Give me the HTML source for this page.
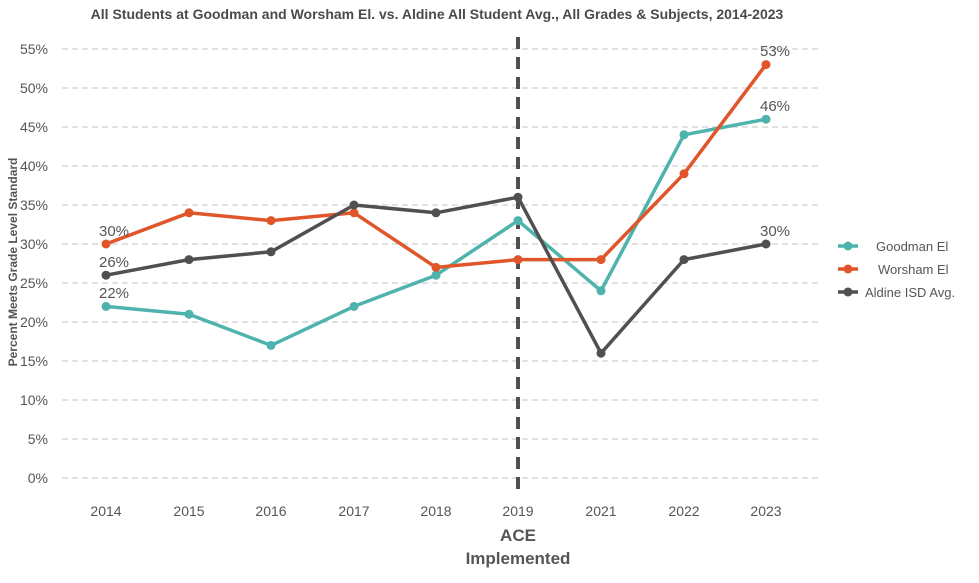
<!DOCTYPE html><html><head><style>body{margin:0;background:#fff}svg{display:block;font-family:"Liberation Sans",sans-serif}</style></head><body>
<svg width="979" height="583" viewBox="0 0 979 583">
<text x="437" y="19" text-anchor="middle" font-size="14" font-weight="bold" fill="#4a4a4a">All Students at Goodman and Worsham El. vs. Aldine All Student Avg., All Grades &amp; Subjects, 2014-2023</text>
<g stroke="#cfcfcf" stroke-dasharray="6,4" stroke-width="1.2">
<line x1="62" x2="818" y1="478" y2="478"/><line x1="62" x2="818" y1="439" y2="439"/><line x1="62" x2="818" y1="400" y2="400"/><line x1="62" x2="818" y1="361" y2="361"/><line x1="62" x2="818" y1="322" y2="322"/><line x1="62" x2="818" y1="283" y2="283"/><line x1="62" x2="818" y1="244" y2="244"/><line x1="62" x2="818" y1="205" y2="205"/><line x1="62" x2="818" y1="166" y2="166"/><line x1="62" x2="818" y1="127" y2="127"/><line x1="62" x2="818" y1="88" y2="88"/><line x1="62" x2="818" y1="49" y2="49"/></g>
<g font-size="14" fill="#555" text-anchor="end">
<text x="48" y="483">0%</text><text x="48" y="444">5%</text><text x="48" y="405">10%</text><text x="48" y="366">15%</text><text x="48" y="327">20%</text><text x="48" y="288">25%</text><text x="48" y="249">30%</text><text x="48" y="210">35%</text><text x="48" y="171">40%</text><text x="48" y="132">45%</text><text x="48" y="93">50%</text><text x="48" y="54">55%</text></g>
<g font-size="14" fill="#555" text-anchor="middle">
<text x="106" y="516">2014</text><text x="189" y="516">2015</text><text x="271" y="516">2016</text><text x="354" y="516">2017</text><text x="436" y="516">2018</text><text x="518" y="516">2019</text><text x="601" y="516">2021</text><text x="684" y="516">2022</text><text x="766" y="516">2023</text></g>
<text x="518" y="541" text-anchor="middle" font-size="17" font-weight="bold" fill="#555">ACE</text>
<text x="518" y="564" text-anchor="middle" font-size="17" font-weight="bold" fill="#555">Implemented</text>
<text transform="translate(17,262) rotate(-90)" text-anchor="middle" font-size="12" font-weight="bold" fill="#555">Percent Meets Grade Level Standard</text>
<line x1="518" x2="518" y1="37" y2="492" stroke="#505050" stroke-width="4" stroke-dasharray="12,8"/>
<g fill="none" stroke-width="3.5" stroke-linejoin="round">
<polyline stroke="#4fb3ad" points="106,306.4 189,314.2 271,345.4 354,306.4 436,275.2 518,220.6 601,290.8 684,134.8 766,119.2"/>
<polyline stroke="#e0562a" points="106,244 189,212.8 271,220.6 354,212.8 436,267.4 518,259.6 601,259.6 684,173.8 766,64.6"/>
<polyline stroke="#505050" points="106,275.2 189,259.6 271,251.8 354,205 436,212.8 518,197.2 601,353.2 684,259.6 766,244"/></g>
<g fill="#4fb3ad"><circle cx="106" cy="306.4" r="4.5"/><circle cx="189" cy="314.2" r="4.5"/><circle cx="271" cy="345.4" r="4.5"/><circle cx="354" cy="306.4" r="4.5"/><circle cx="436" cy="275.2" r="4.5"/><circle cx="518" cy="220.6" r="4.5"/><circle cx="601" cy="290.8" r="4.5"/><circle cx="684" cy="134.8" r="4.5"/><circle cx="766" cy="119.2" r="4.5"/></g>
<g fill="#e0562a"><circle cx="106" cy="244" r="4.5"/><circle cx="189" cy="212.8" r="4.5"/><circle cx="271" cy="220.6" r="4.5"/><circle cx="354" cy="212.8" r="4.5"/><circle cx="436" cy="267.4" r="4.5"/><circle cx="518" cy="259.6" r="4.5"/><circle cx="601" cy="259.6" r="4.5"/><circle cx="684" cy="173.8" r="4.5"/><circle cx="766" cy="64.6" r="4.5"/></g>
<g fill="#505050"><circle cx="106" cy="275.2" r="4.5"/><circle cx="189" cy="259.6" r="4.5"/><circle cx="271" cy="251.8" r="4.5"/><circle cx="354" cy="205" r="4.5"/><circle cx="436" cy="212.8" r="4.5"/><circle cx="518" cy="197.2" r="4.5"/><circle cx="601" cy="353.2" r="4.5"/><circle cx="684" cy="259.6" r="4.5"/><circle cx="766" cy="244" r="4.5"/></g>
<g font-size="15" fill="#555" text-anchor="middle">
<text x="114" y="236">30%</text><text x="114" y="267">26%</text><text x="114" y="298">22%</text>
<text x="775" y="56">53%</text><text x="775" y="111">46%</text><text x="775" y="236">30%</text></g>
<g stroke-width="3.5"><line x1="838" x2="858" y1="246" y2="246" stroke="#4fb3ad"/><line x1="838" x2="858" y1="269" y2="269" stroke="#e0562a"/><line x1="838" x2="858" y1="292" y2="292" stroke="#505050"/></g>
<circle cx="848" cy="246" r="4.5" fill="#4fb3ad"/><circle cx="848" cy="269" r="4.5" fill="#e0562a"/><circle cx="848" cy="292" r="4.5" fill="#505050"/>
<g font-size="13" fill="#555"><text x="876" y="251">Goodman El</text><text x="878" y="274">Worsham El</text><text x="865" y="297">Aldine ISD Avg.</text></g>
</svg></body></html>
